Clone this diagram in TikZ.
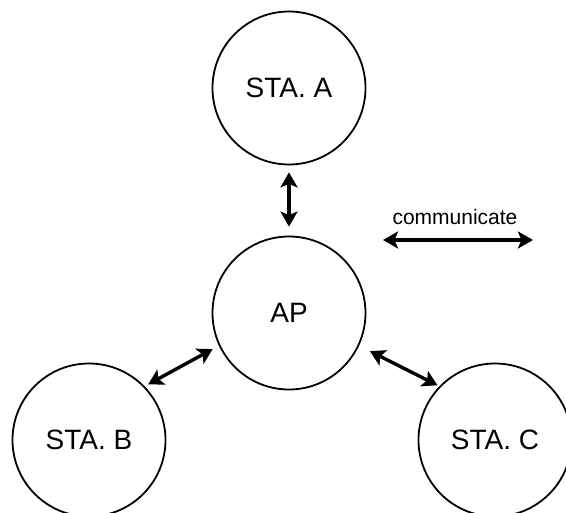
\documentclass[tikz,border=0pt]{standalone}
\usepackage{fontspec}
\setmainfont{Liberation Sans}
\usetikzlibrary{arrows.meta}
\begin{document}
\begin{tikzpicture}[x=1pt,y=1pt,
  station/.style={circle,draw=black,line width=1.8pt,minimum size=153pt,inner sep=0pt,font=\fontsize{28}{30}\selectfont},
  link/.style={line width=3.4pt,{Stealth[length=15pt,width=17pt,inset=3.5pt]}-{Stealth[length=15pt,width=17pt,inset=3.5pt]}}
]
\useasboundingbox (0,0) rectangle (566,-513);

% stations and access point
\node[station] (A)  at (289,-88)  {STA. A};
\node[station] (AP) at (289,-313) {AP};
\node[station] (B)  at (89,-440)  {STA. B};
\node[station] (C)  at (495,-440) {STA. C};

% links between access point and stations
\draw[link,shorten <=7pt,shorten >=9pt] (A.south) -- (AP.north);
\draw[link,shorten <=4pt,shorten >=7pt] (B.44) -- (AP.205);
\draw[link,shorten <=12pt,shorten >=2pt] (AP.-25) -- (C.136);

% legend
\coordinate (L1) at (383,-240);
\coordinate (L2) at (533,-240);
\draw[link] (L1) -- (L2);
\node[font=\fontsize{21}{24}\selectfont] (legend) at (455,-217) {communicate};
\end{tikzpicture}
\end{document}
